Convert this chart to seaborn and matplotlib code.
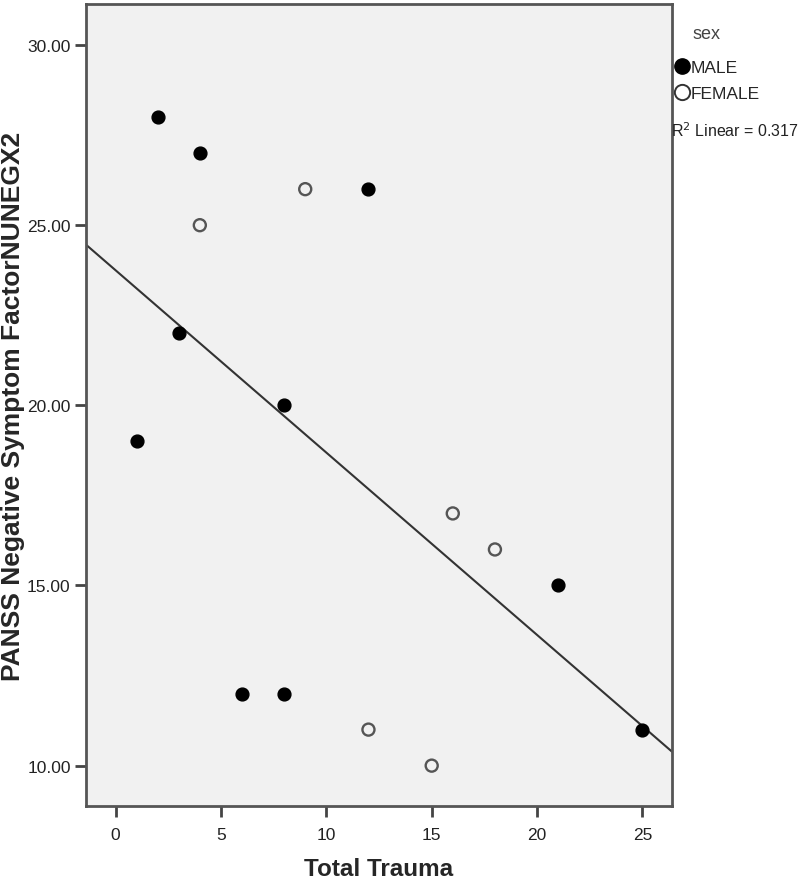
"""
Scatter of PANSS negative symptom factor against total trauma, by sex,
with a linear fit line over all cases.
"""

## Import packages
import numpy as np
import pandas as pd
import matplotlib
matplotlib.use('Agg')
import matplotlib.pyplot as plt
import seaborn as sns
from matplotlib.lines import Line2D


## Data
male_trauma = [1, 2, 3, 4, 6, 8, 8, 12, 21, 25]
male_panss = [19, 28, 22, 27, 12, 12, 20, 26, 15, 11]
female_trauma = [4, 9, 12, 15, 16, 18]
female_panss = [25, 26, 11, 10, 17, 16]

x_ticks = [0, 5, 10, 15, 20, 25]
y_ticks = [10, 15, 20, 25, 30]

df = pd.concat([
    pd.DataFrame({'trauma': male_trauma, 'panss': male_panss, 'sex': 'MALE'}),
    pd.DataFrame({'trauma': female_trauma, 'panss': female_panss, 'sex': 'FEMALE'}),
], ignore_index=True)

# R squared of the linear fit over all cases
r2 = np.corrcoef(df['trauma'], df['panss'])[0, 1] ** 2


## Figure
sns.set_theme(style='white')
plt.rcParams['font.family'] = ['Liberation Sans', 'DejaVu Sans']

fig = plt.figure(figsize=(8, 8.87), dpi=100)
ax = fig.add_axes([0.1075, 0.0902, 0.7325, 0.9042])
ax.set_facecolor('#f1f1f1')

# Limits first, so the fit line spans the whole frame
ax.set_xlim(-1.4, 26.4)
ax.set_ylim(8.88, 31.14)

male = df[df['sex'] == 'MALE']
female = df[df['sex'] == 'FEMALE']
sns.scatterplot(data=male, x='trauma', y='panss', ax=ax, color='black',
                s=85, edgecolor='black', linewidth=1, zorder=3)
sns.scatterplot(data=female, x='trauma', y='panss', ax=ax, facecolor='none',
                s=75, edgecolor='#555555', linewidth=1.7, zorder=3)

sns.regplot(data=df, x='trauma', y='panss', ax=ax, scatter=False, ci=None,
            truncate=False, line_kws={'color': '#333333', 'linewidth': 1.5})
ax.set_xlim(-1.4, 26.4)
ax.set_ylim(8.88, 31.14)

# Axes and ticks
ax.set_xticks(x_ticks)
ax.set_yticks(y_ticks)
ax.set_yticklabels([f'{v:.2f}' for v in y_ticks])
ax.tick_params(axis='both', direction='out', length=8, width=2,
               color='#444444', labelsize=12.5, labelcolor='#222222',
               bottom=True, left=True)
ax.tick_params(axis='x', pad=7)
ax.tick_params(axis='y', pad=3)
for side in ax.spines.values():
    side.set_color('#555555')
    side.set_linewidth(2)

ax.set_xlabel('Total Trauma', fontsize=17.5, fontweight='bold',
              family=['Liberation Sans Narrow', 'Liberation Sans'])
ax.set_ylabel('PANSS Negative Symptom FactorNUNEGX2', fontsize=19,
              fontweight='bold')
ax.yaxis.set_label_coords(-0.104, 0.5)
ax.xaxis.set_label_coords(0.5, -0.064)


## Legend outside the frame
fig.text(0.866, 0.961, 'sex', fontsize=13, color='#444444',
         ha='left', va='center')
handles = [Line2D([], [], marker='o', linestyle='none', markersize=11,
                  markerfacecolor='black', markeredgecolor='black'),
           Line2D([], [], marker='o', linestyle='none', markersize=11,
                  markerfacecolor='none', markeredgecolor='#333333',
                  markeredgewidth=1.4)]
leg = ax.legend(handles, ['MALE', 'FEMALE'], loc='upper left',
                bbox_to_anchor=(0.843, 0.931), bbox_transform=fig.transFigure,
                frameon=False, handletextpad=0.05, handlelength=0.9,
                labelspacing=0.6, borderaxespad=0, borderpad=0,
                fontsize=12.5)

fig.text(0.839, 0.853, 'R$^2$ Linear = ' + f'{r2:.3f}', fontsize=11.5,
         ha='left', va='center', color='#222222')

# Save figure
fig.savefig('out.png', dpi=100)
